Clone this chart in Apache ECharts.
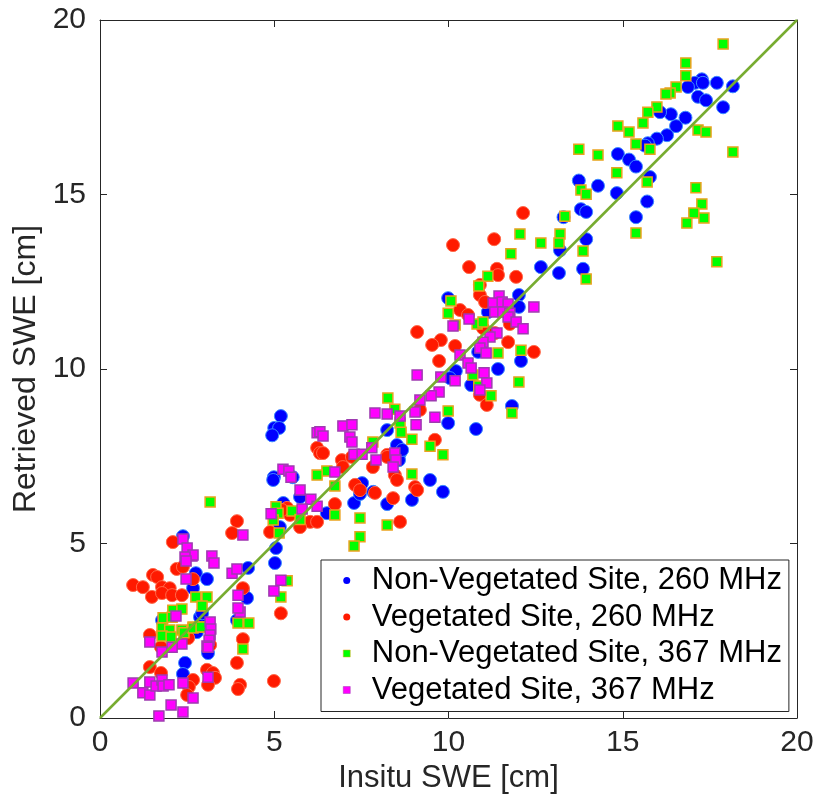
<!DOCTYPE html>
<html>
<head>
<meta charset="utf-8">
<script src="https://cdn.jsdelivr.net/npm/echarts@6.0.0/dist/echarts.min.js"></script>
<style>html,body{margin:0;padding:0;background:#fff;}#c{width:819px;height:812px;}</style>
</head>
<body>
<div id="c"></div>
<script>
const xTicks = [0, 5, 10, 15, 20];
const seriesNames = ['Non-Vegetated Site, 260 MHz', 'Vegetated Site, 260 MHz', 'Non-Vegetated Site, 367 MHz', 'Vegetated Site, 367 MHz'];

const nonVeg260 = [[18.16,18.1],[17.7,18.2],[17.27,18.3],[17.07,18.2],[17.3,18.2],[16.87,18.08],[17.16,17.8],[17.39,17.7],[17.88,17.5],[16.8,17.2],[16.53,16.96],[16.38,17.3],[16.07,17.36],[16.27,16.7],[15.98,16.6],[15.72,16.47],[15.64,16.4],[14.86,16.16],[15.18,16.0],[15.38,15.8],[15.78,15.5],[13.74,15.4],[14.29,15.25],[14.83,15.04],[15.7,14.8],[13.8,14.58],[13.95,14.5],[15.38,14.35],[13.3,14.35],[13.95,13.72],[13.2,13.4],[12.65,12.92],[13.17,12.75],[13.86,12.87],
[9.99,12.03],[12.02,12.12],[12.02,11.78],[11.13,11.63],[12.08,10.23],[11.42,10.0],[10.85,10.49],[10.21,9.94],[10.65,9.54],[10.04,9.74],[11.82,8.94],[9.99,8.45],[10.79,8.28],[8.24,8.25],[8.52,7.82],[8.61,7.59],
[5.19,8.65],[5.0,8.31],[5.14,8.31],[4.94,8.1],[4.99,6.9],[5.53,6.9],[5.26,6.16],[5.74,6.33],[6.51,5.87],[7.29,6.16],[7.52,6.73],[7.46,6.42],[7.84,6.48],[8.24,6.13],[8.58,7.39],[8.67,7.68],[8.95,6.25],[9.47,6.82],[9.84,6.48],[5.16,5.47],[5.05,4.87],
[2.38,5.21],[2.75,4.15],[3.07,3.98],[2.67,3.72],[2.87,2.89],[2.78,2.46],[3.1,1.86],[2.44,1.58],[2.38,1.26],[1.78,2.8],[4.25,4.3],[4.1,3.67],[4.22,3.44],[3.93,2.8],[5.02,4.44],[4.97,6.82],[2.93,3.0]];

const veg260 = [[12.14,14.47],[10.13,13.55],[11.31,13.72],[10.59,12.92],[11.39,12.87],[11.42,12.69],[11.94,12.64],[10.9,12.41],[10.9,12.12],[11.05,11.92],[10.33,11.69],[10.56,11.55],[11.76,11.29],[9.1,11.06],[9.78,10.83],[9.53,10.69],[10.19,10.66],[11.71,10.77],[12.45,10.49],[9.73,10.23],[11.33,11.03],[10.99,11.17],[10.9,9.26],[11.1,8.97],[9.18,8.83],[9.61,7.97],[8.24,7.54],
[6.23,7.74],[6.31,7.59],[6.4,7.59],[6.94,7.39],[7.23,7.48],[7.32,6.68],[7.46,6.53],[7.83,7.19],[8.24,7.48],[8.46,6.96],[8.52,6.82],[6.74,6.13],[7.89,6.45],[8.41,6.3],[8.61,5.62],[6.03,5.62],[6.23,5.62],[5.74,5.47],[5.45,5.82],[5.37,6.02],[6.97,7.19],[9.04,6.62],[9.1,6.53],[5.22,5.96],
[3.93,5.64],[3.79,5.3],[4.88,5.33],[2.09,5.04],[2.2,4.27],[2.38,4.33],[1.52,4.1],[1.64,4.04],[0.95,3.81],[1.23,3.75],[1.78,3.75],[2.0,3.72],[1.49,3.47],[1.78,3.58],[2.07,3.52],[2.35,3.52],[2.67,3.98],[4.1,3.72],[1.43,2.38],[1.75,2.03],[2.53,2.29],[3.16,2.09],[4.1,2.26],[3.93,1.58],[1.43,1.46],[1.75,1.29],[3.07,1.38],[3.24,1.29],[3.3,1.15],[3.1,0.95],[2.67,1.09],[2.55,0.89],[2.5,0.66],[4.02,0.95],[3.96,0.83],[4.99,1.06],[5.19,3.0]];

const nonVeg367 = [[17.88,19.31],[16.81,18.77],[16.81,18.4],[16.53,18.08],[16.36,17.91],[16.24,17.88],[15.98,17.51],[15.72,17.36],[15.58,17.05],[14.86,16.96],[15.18,16.79],[17.16,16.85],[17.39,16.79],[15.38,16.45],[15.78,16.3],[13.74,16.3],[14.29,16.13],[18.16,16.22],[14.83,15.62],[15.7,15.36],[13.8,15.13],[13.95,15.01],[17.1,15.19],[17.27,14.73],[17.04,14.47],[17.33,14.33],[16.84,14.18],[13.34,14.38],[12.05,13.87],[12.65,13.61],[13.2,13.87],[13.17,13.61],[15.38,13.9],[13.86,13.38],[13.95,12.58],[17.7,13.07],
[11.79,13.3],[11.13,12.66],[10.87,12.38],[10.07,11.95],[9.99,11.6],[10.19,11.26],[10.82,11.29],[10.99,11.35],[11.42,10.46],[12.08,10.54],[12.02,9.63],[10.7,9.83],[10.87,9.51],[11.22,9.23],[11.82,8.74],[9.99,8.8],[8.26,9.17],[8.46,8.85],[8.61,8.45],[8.64,8.19],[8.95,7.99],[9.47,7.79],[9.84,7.54],
[7.83,7.91],[6.51,7.08],[6.23,6.96],[6.74,6.65],[8.95,6.99],[7.46,5.73],[8.24,5.53],[7.46,5.19],[7.29,4.93],[6.74,5.82],[5.51,5.93],[5.05,6.05],[5.11,5.87],[4.97,5.67],[5.14,5.3],[3.16,6.19],[5.74,5.69],
[5.37,3.93],[5.19,3.47],[2.75,3.47],[3.07,3.47],[2.93,3.21],[2.67,2.61],[2.87,2.61],[3.96,2.72],[4.27,2.72],[4.1,1.98],[1.81,2.87],[2.09,3.09],[2.35,3.12],[2.07,2.89],[1.78,2.58],[2.0,2.52],[1.78,2.35],[2.04,2.32],[2.35,2.52],[2.41,2.44],[2.67,2.58],[2.9,2.61]];

const veg367 = [[12.45,11.78],[11.45,12.09],[11.28,11.89],[11.54,11.92],[11.71,11.86],[11.33,11.63],[11.56,11.63],[11.76,11.6],[11.71,11.49],[11.94,11.35],[12.14,11.15],[10.59,11.43],[10.13,11.23],[11.39,11.03],[11.19,10.92],[10.99,10.77],[10.9,10.6],[11.08,10.46],[10.33,10.4],[10.56,10.17],[10.65,10.03],[11.02,9.89],[11.1,9.6],[10.9,9.4],[9.1,9.83],[9.78,9.77],[10.19,9.66],[9.73,9.34],[9.5,9.23],[9.18,9.11],[8.24,8.71],[8.61,8.65],[9.04,8.77],[9.07,8.4],[9.61,8.62],[8.46,7.59],[7.89,8.74],
[6.97,8.37],[7.23,8.4],[7.17,8.05],[7.23,7.91],[6.23,8.17],[6.31,8.2],[6.4,8.08],[7.8,7.74],[7.29,7.56],[7.52,7.56],[7.92,7.39],[8.49,7.39],[8.41,7.19],[6.74,7.05],[5.25,7.13],[5.42,7.08],[5.48,6.9],[5.74,6.53],[6.05,6.27],[6.23,6.07],[5.8,5.99],[4.91,5.85],[4.1,5.24],
[3.21,4.64],[3.27,4.44],[2.64,4.64],[3.79,4.15],[3.93,4.27],[3.96,3.52],[4.02,3.04],[5.19,3.95],[4.99,3.64],[3.16,2.75],[3.18,2.55],[3.16,2.38],[3.13,2.23],[3.07,2.06],[3.1,1.17],
[2.38,5.13],[2.5,4.87],[2.67,4.67],[2.44,4.61],[2.47,4.5],[2.47,3.98],[3.96,3.15],[2.18,2.92],[1.43,2.18],[1.78,1.89],[2.35,2.12],[0.95,1.0],[1.23,0.72],[1.43,0.66],[1.43,1.03],[1.61,0.92],[1.78,1.09],[1.81,0.92],[1.98,0.95],[2.38,1.0],[2.67,0.57],[2.04,0.37],[1.69,0.06],[2.38,0.17],[2.07,2.03],[3.1,2.03]];

const oneToOneX = [0, 20];
const oneToOneY = [0, 20];

const FONT = 'Liberation Sans';
const AX = '#262626';
const squareIcon = 'path://M0,0H10V10H0Z';

const chart = echarts.init(document.getElementById('c'), null, {renderer: 'canvas'});

function baseAxis(extra) {
  return Object.assign({
    type: 'value', min: xTicks[0], max: xTicks[xTicks.length - 1], interval: 5,
    axisLine: {show: true, onZero: false, lineStyle: {color: AX, width: 1}},
    axisTick: {show: true, inside: true, length: 7, lineStyle: {color: AX, width: 1}},
    splitLine: {show: false},
    axisLabel: {fontSize: 30, color: AX, fontFamily: FONT}
  }, extra);
}

chart.setOption({
  animation: false,
  backgroundColor: '#fff',
  grid: {left: 100, top: 20, width: 697, height: 698, containLabel: false},
  xAxis: [
    baseAxis({position: 'bottom', name: 'Insitu SWE [cm]', nameLocation: 'middle', nameGap: 35,
      nameTextStyle: {fontSize: 31, color: AX, fontFamily: FONT}, axisLabel: {fontSize: 30, color: AX, fontFamily: FONT, margin: 10}}),
    baseAxis({position: 'top', axisLabel: {show: false}})
  ],
  yAxis: [
    baseAxis({position: 'left', name: 'Retrieved SWE [cm]', nameLocation: 'middle', nameGap: 50,
      nameTextStyle: {fontSize: 32, color: AX, fontFamily: FONT}, axisLabel: {fontSize: 30, color: AX, fontFamily: FONT, margin: 14}}),
    baseAxis({position: 'right', axisLabel: {show: false}})
  ],
  legend: {
    orient: 'vertical', left: 321, top: 560,
    padding: [5, 7, 6, 22], itemGap: 5.5, itemWidth: 40, itemHeight: 7,
    backgroundColor: '#fff', borderColor: AX, borderWidth: 1,
    symbolKeepAspect: true,
    textStyle: {fontSize: 31, color: '#000', fontFamily: FONT},
    data: [
      {name: seriesNames[0], icon: 'circle', itemStyle: {color: '#0000ff', borderWidth: 0}},
      {name: seriesNames[1], icon: 'circle', itemStyle: {color: '#ff1a00', borderWidth: 0}},
      {name: seriesNames[2], icon: squareIcon, itemStyle: {color: '#00ff00', borderColor: '#eaa21e', borderWidth: 0.5}},
      {name: seriesNames[3], icon: squareIcon, itemStyle: {color: '#ff00ff', borderColor: '#9e3bb0', borderWidth: 0.5}}
    ]
  },
  series: [
    {name: seriesNames[0], type: 'scatter', symbol: 'circle', symbolSize: 13, data: nonVeg260,
      itemStyle: {color: '#0000ff', borderColor: '#3d8cff', borderWidth: 1, opacity: 1}, z: 2},
    {name: seriesNames[1], type: 'scatter', symbol: 'circle', symbolSize: 13, data: veg260,
      itemStyle: {color: '#ff1a00', borderColor: '#ff6a4a', borderWidth: 1, opacity: 1}, z: 3},
    {name: seriesNames[2], type: 'scatter', symbol: 'rect', symbolSize: 10, data: nonVeg367,
      itemStyle: {color: '#00ff00', borderColor: '#eaa21e', borderWidth: 1.5, opacity: 1}, z: 4},
    {name: seriesNames[3], type: 'scatter', symbol: 'rect', symbolSize: 10, data: veg367,
      itemStyle: {color: '#ff00ff', borderColor: '#9e3bb0', borderWidth: 1.5, opacity: 1}, z: 5},
    {name: 'one-to-one', type: 'line', data: oneToOneX.map((v, i) => [v, oneToOneY[i]]),
      symbol: 'none', lineStyle: {color: '#77AC30', width: 2.5}, z: 6, silent: true}
  ]
});
</script>
</body>
</html>
